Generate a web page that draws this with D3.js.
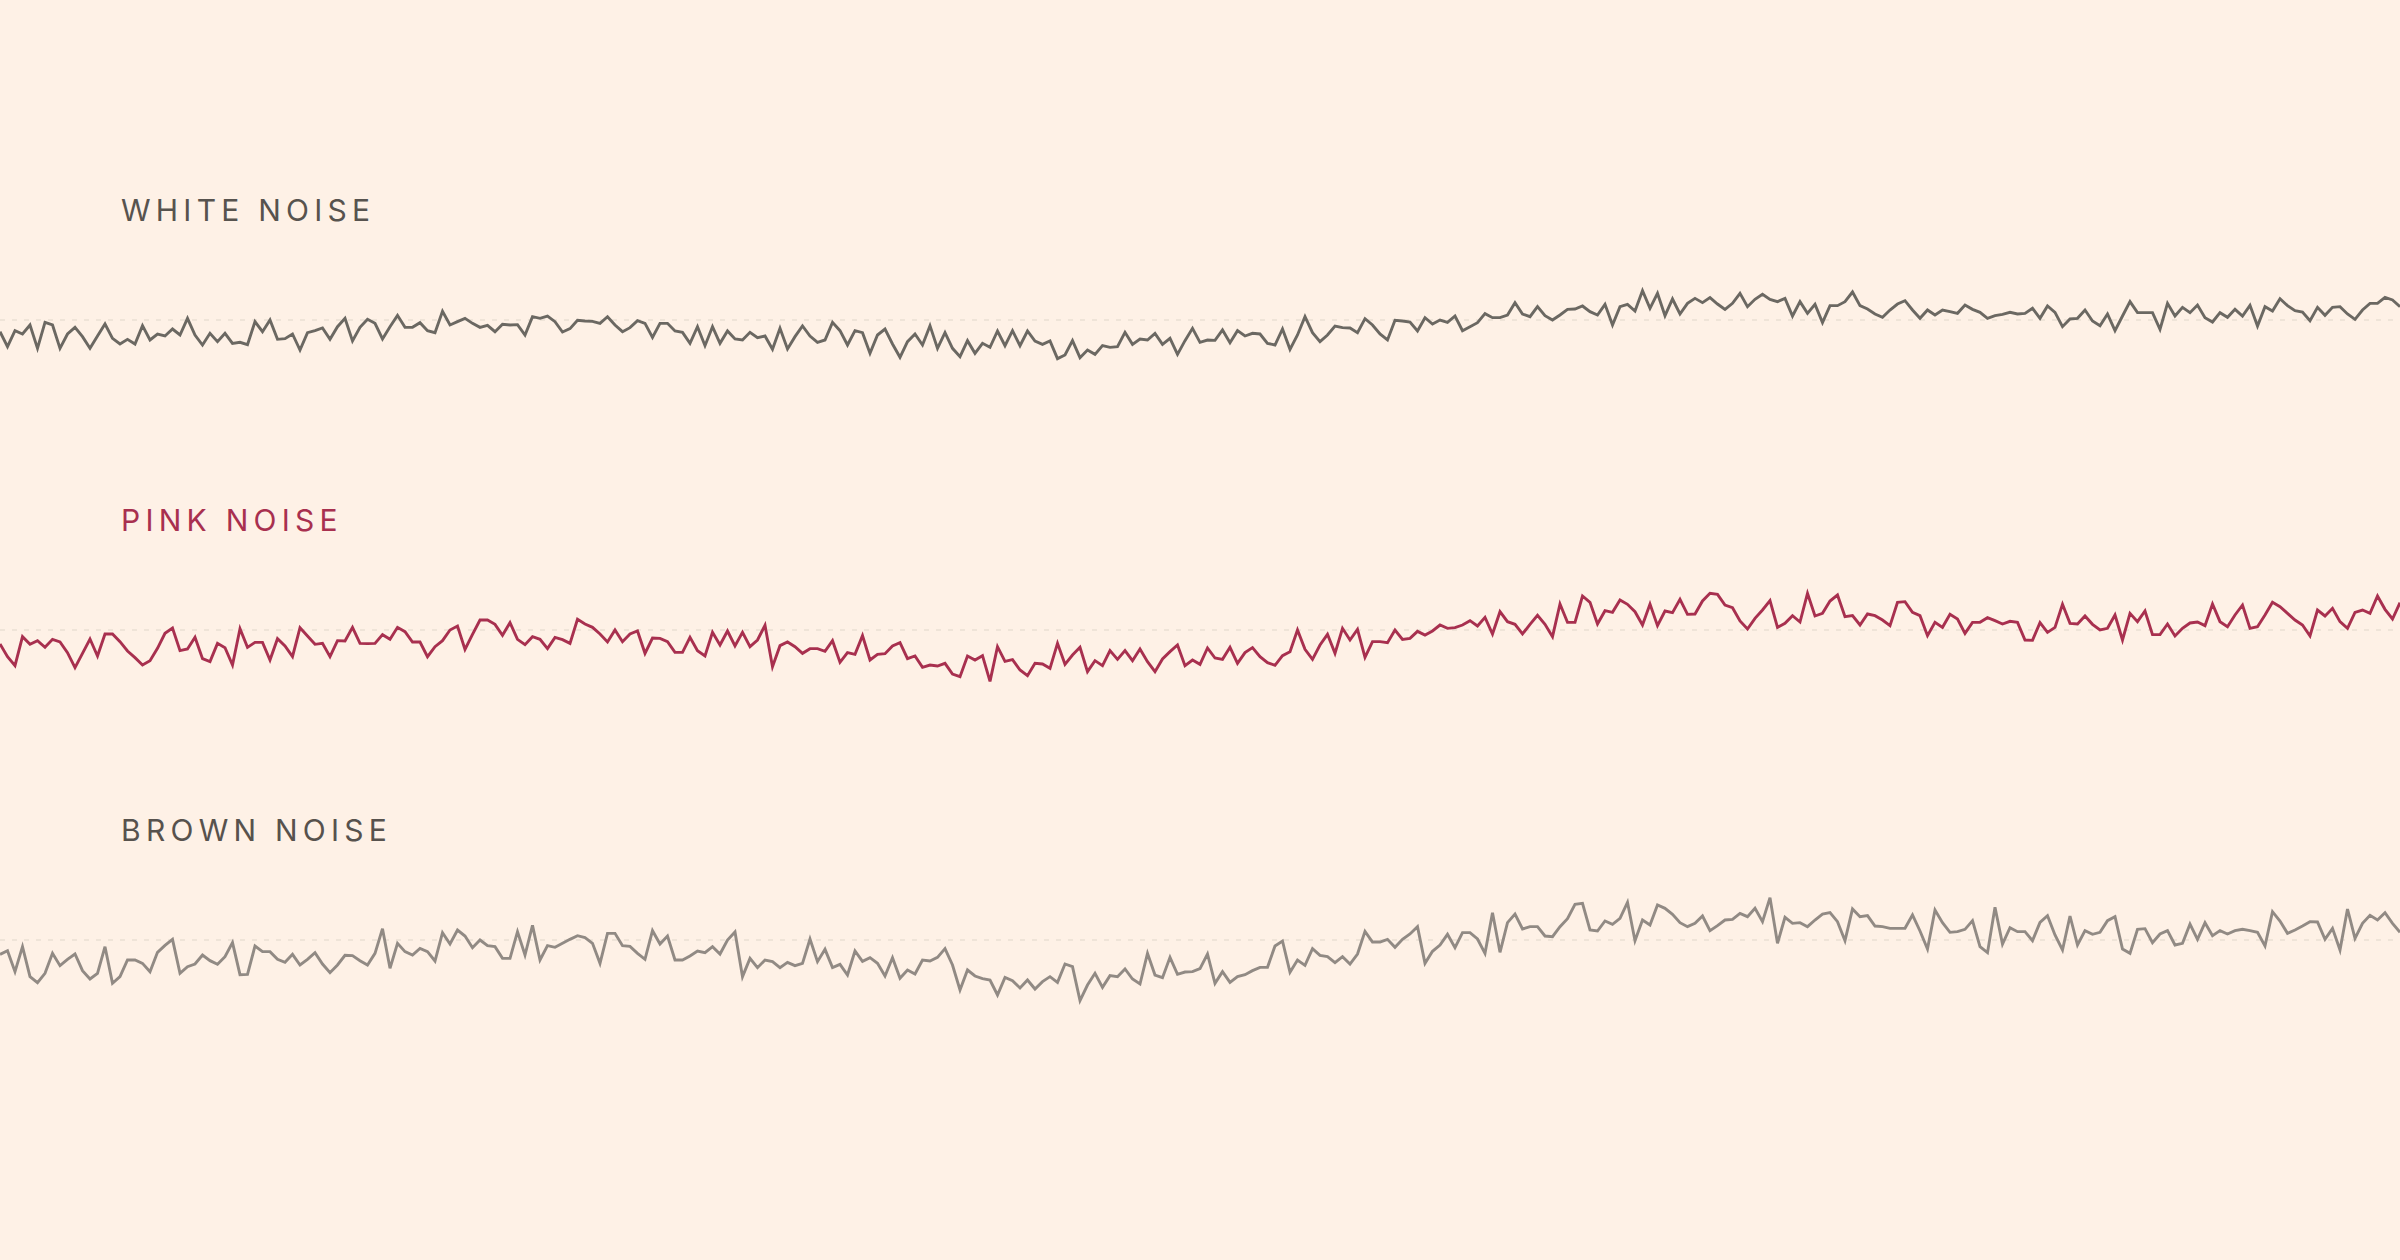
<!DOCTYPE html>
<html>
<head>
<meta charset="utf-8">
<script src="https://cdn.jsdelivr.net/npm/d3@7"></script>
<style>
  html, body { margin: 0; padding: 0; background: #FEF1E6; }
  svg { display: block; }
</style>
</head>
<body>
<svg id="chart" width="2400" height="1260"></svg>
<script>
const seriesNames = ["WHITE NOISE", "PINK NOISE", "BROWN NOISE"];

const whiteNoise = [
-35,-80,-32,-42,-15,-85,-7,-15,-85,-42,-22,-50,-85,-48,-12,-55,-72,-58,-72,-17,
-60,-42,-48,-27,-45,5,-45,-75,-40,-65,-40,-70,-67,-74,-5,-35,0,-58,-56,-42,
-90,-38,-32,-24,-58,-20,5,-63,-22,2,-10,-57,-20,14,-22,-22,-8,-32,-38,26,
-15,-5,5,-10,-22,-16,-35,-13,-15,-14,-45,10,5,12,-5,-36,-26,-1,-3,-4,-10,
10,-15,-35,-23,-2,-10,-52,-10,-10,-33,-37,-70,-20,-77,-20,-70,-33,-57,-60,-37,
-53,-48,-88,-25,-87,-50,-18,-48,-67,-60,-7,-32,-75,-32,-38,-100,-45,-27,-72,-112,
-65,-42,-75,-17,-85,-38,-85,-110,-62,-100,-70,-82,-33,-77,-32,-77,-33,-63,-73,-63,
-116,-105,-62,-113,-90,-103,-77,-82,-80,-37,-73,-57,-60,-40,-73,-55,-103,-62,-25,-67,
-60,-61,-30,-68,-32,-48,-40,-42,-70,-75,-27,-88,-45,10,-38,-65,-45,-18,-23,-24,
-38,4,-15,-42,-60,-1,-3,-6,-33,7,-12,0,-7,12,-32,-20,-8,19,7,7,
15,52,18,10,40,13,0,15,32,33,42,25,15,47,-15,40,47,27,88,35,
80,13,63,18,50,65,52,67,48,32,50,80,40,62,77,62,55,65,12,55,
20,47,-8,43,43,55,84,43,33,18,8,30,48,58,30,5,30,15,30,25,
20,45,32,23,5,13,17,23,18,20,35,5,42,23,-20,3,5,30,-3,-17,
18,-32,12,55,22,22,22,-28,50,12,38,22,45,7,-6,22,8,32,12,44,
-18,40,27,64,43,28,24,-2,38,14,38,40,18,2,30,50,50,68,60,40
];

const pinkNoise = [
-42,-80,-107,-20,-43,-32,-52,-28,-36,-68,-113,-70,-27,-78,-12,-12,-35,-63,-83,-105,
-92,-55,-10,6,-62,-57,-22,-86,-95,-40,-53,-105,4,-52,-37,-37,-90,-26,-48,-80,
7,-18,-43,-40,-80,-32,-33,8,-40,-41,-40,-14,-28,8,-5,-36,-36,-80,-50,-32,
0,12,-58,-13,30,30,17,-16,22,-28,-44,-20,-28,-56,-22,-29,-40,32,18,8,-12,
-36,0,-35,-12,-3,-70,-24,-25,-35,-67,-67,-22,-62,-78,-7,-45,-3,-48,-7,-50,
-30,14,-110,-47,-36,-50,-70,-56,-56,-64,-32,-97,-68,-73,-17,-90,-73,-71,-48,-38,
-86,-78,-112,-105,-108,-100,-132,-140,-78,-90,-77,-154,-50,-94,-89,-120,-137,-100,-102,-115,
-40,-103,-75,-52,-125,-92,-107,-62,-88,-62,-92,-57,-95,-125,-87,-65,-45,-107,-90,-103,
-54,-84,-88,-52,-100,-68,-53,-80,-98,-106,-77,-65,0,-58,-88,-45,-13,-70,5,-30,
2,-82,-35,-35,-38,0,-28,-25,-4,-15,-3,15,5,7,15,28,12,38,-12,55,
25,17,-12,17,44,17,-20,78,23,23,102,83,18,58,53,90,77,55,15,78,
13,57,52,92,47,48,87,110,107,75,67,27,3,35,60,88,8,20,43,24,
110,42,50,87,105,40,43,15,48,43,30,13,83,85,53,43,-17,23,8,47,
33,-10,23,23,37,28,18,26,23,-30,-31,22,-7,8,77,20,18,42,17,0,
5,45,-30,50,25,57,-14,-14,18,-18,5,21,24,13,78,25,10,45,75,5,
10,45,83,70,50,30,15,-18,60,42,65,25,5,53,60,50,102,62,33,82
];

const brownNoise = [
-43,-32,-95,-20,-110,-128,-100,-40,-77,-58,-42,-92,-117,-100,-20,-130,-110,-60,-60,-70,
-95,-37,-16,2,-100,-80,-72,-45,-62,-73,-50,-8,-104,-103,-18,-35,-35,-58,-67,-43,
-75,-58,-38,-72,-98,-75,-46,-47,-62,-75,-40,34,-85,-10,-35,-45,-25,-35,-63,22,
-12,30,12,-23,0,-17,-20,-55,-55,25,-45,44,-60,-17,-22,-10,2,13,7,-10,-70,
20,20,-17,-19,-40,-58,28,-12,12,-60,-60,-48,-33,-38,-20,-42,0,24,-110,-55,
-83,-60,-65,-83,-67,-77,-70,3,-65,-28,-83,-73,-105,-33,-64,-53,-70,-108,-53,-115,
-90,-102,-60,-63,-52,-26,-75,-150,-90,-108,-116,-120,-165,-112,-122,-144,-120,-147,-125,-110,
-127,-72,-80,-182,-135,-100,-142,-107,-110,-87,-117,-132,-40,-105,-113,-52,-103,-96,-95,-86,
-42,-130,-95,-127,-110,-104,-92,-82,-82,-18,-3,-97,-60,-76,-26,-46,-50,-68,-50,-72,
-42,26,-6,-6,2,-22,2,18,40,-70,-34,-15,17,-23,22,22,3,-40,82,-37,
52,78,33,40,40,12,10,40,64,107,110,30,27,57,47,65,113,-2,60,45,
105,95,77,52,40,50,72,28,43,60,62,80,70,95,55,127,-10,68,50,52,
40,60,78,82,55,-2,93,70,73,42,40,35,35,35,75,27,-27,90,52,23,
25,32,58,-20,-38,98,-12,37,25,25,-2,53,73,15,-30,72,-15,28,17,23,
58,70,-27,-40,32,34,-8,18,28,-15,-10,48,2,52,13,28,18,28,32,28,
23,-18,85,57,20,30,42,55,54,2,35,-30,93,5,50,74,60,82,50,23
];

const seriesValues = [whiteNoise, pinkNoise, brownNoise];
const lineColors = ["#6B6862", "#A8304F", "#918A84"];
const labelColors = ["#57534E", "#A8304F", "#57524D"];

const W = 2400, H = 1260;
const svg = d3.select("#chart");
svg.append("rect").attr("width", W).attr("height", H).attr("fill", "#FEF1E6");

const x = d3.scaleLinear().domain([0, whiteNoise.length - 1]).range([0, W]);
const rowBand = d3.scalePoint().domain(seriesNames).range([320, 940]);

seriesNames.forEach((name, i) => {
  const base = rowBand(name);
  const y = d3.scaleLinear().domain([-150, 150]).range([base + 50, base - 50]);
  const g = svg.append("g");

  g.append("line")
    .attr("x1", 0).attr("x2", W)
    .attr("y1", y(0)).attr("y2", y(0))
    .attr("stroke", "#EADFD4")
    .attr("stroke-width", 1.5)
    .attr("stroke-dasharray", "5 7");

  g.append("text")
    .attr("x", 121)
    .attr("y", base - 99)
    .attr("fill", labelColors[i])
    .attr("font-family", "Inter, 'Noto Sans', sans-serif")
    .attr("font-size", 30)
    .attr("font-weight", 400)
    .attr("letter-spacing", "0.175em")
    .text(name);

  const line = d3.line()
    .x((d, j) => x(j))
    .y(d => y(d))
    .curve(d3.curveLinear);

  g.append("path")
    .datum(seriesValues[i])
    .attr("d", line)
    .attr("fill", "none")
    .attr("stroke", lineColors[i])
    .attr("stroke-width", 2.9)
    .attr("stroke-linejoin", "miter")
    .attr("stroke-linecap", "butt");
});
</script>
</body>
</html>
